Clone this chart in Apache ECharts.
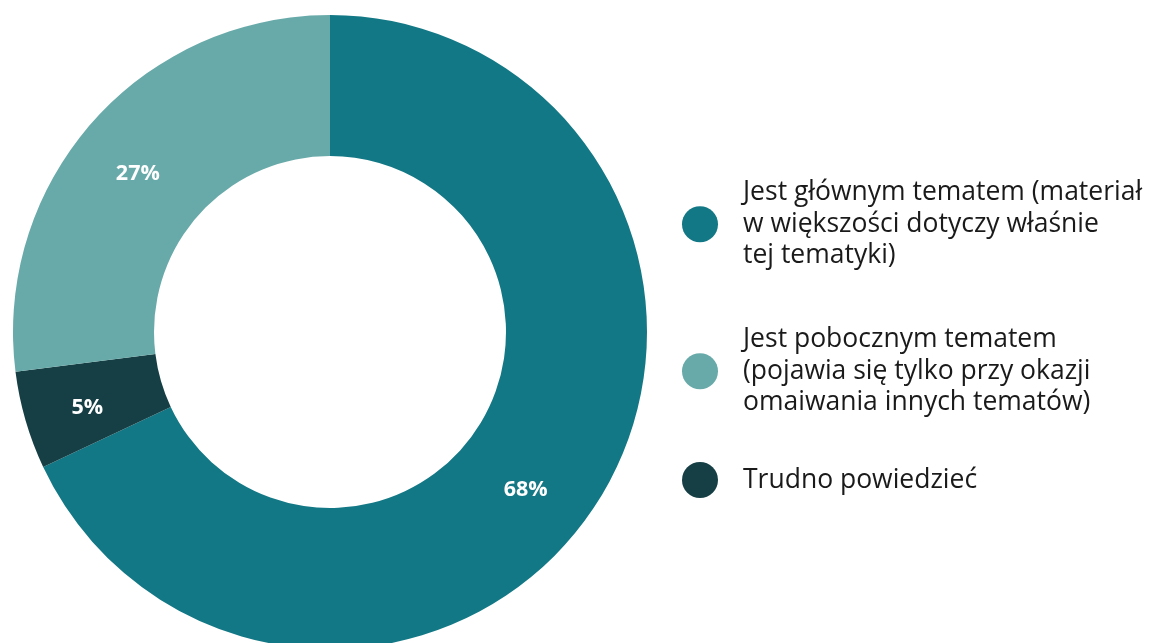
<!DOCTYPE html>
<html>
<head>
<meta charset="utf-8">
<script src="https://cdn.jsdelivr.net/npm/echarts@6/dist/echarts.min.js"></script>
<style>
html, body { margin: 0; padding: 0; background: #fff; }
#chart { width: 1150px; height: 643px; }
</style>
</head>
<body>
<div id="chart"></div>
<script>
var categories = [
    'Jest głównym tematem (materiał\nw większości dotyczy właśnie\ntej tematyki)',
    'Trudno powiedzieć',
    'Jest pobocznym tematem\n(pojawia się tylko przy okazji\nomaiwania innych tematów)'
];
var values = [68, 5, 27];
var colors = ['#137885', '#163f45', '#68aaa9'];

// the source puts its labels a bit off the slice middle
var labelShift = [[-15, 24], [-3, 6], [-5, 7]];

var pieData = [];
for (var i = 0; i < categories.length; i++) {
    pieData.push({
        name: categories[i],
        value: values[i],
        itemStyle: { color: colors[i] },
        label: { offset: labelShift[i] }
    });
}

var legendText = {
    color: '#1a1a1a',
    fontFamily: 'Open Sans',
    fontSize: 26.5,
    lineHeight: 31.5,
    padding: [0, 0, 0, 20]
};

function makeLegend(name, top) {
    return {
        data: [name],
        left: 677,
        top: top,
        orient: 'vertical',
        icon: 'circle',
        itemWidth: 36,
        itemHeight: 36,
        selectedMode: false,
        textStyle: legendText
    };
}

var myChart = echarts.init(document.getElementById('chart'));
myChart.setOption({
    animation: false,
    legend: [
        makeLegend(categories[0], 172),
        makeLegend(categories[2], 319),
        makeLegend(categories[1], 457)
    ],
    series: [{
        type: 'pie',
        center: [330, 332],
        radius: [176, 317],
        startAngle: 90,
        clockwise: true,
        avoidLabelOverlap: false,
        label: {
            show: true,
            position: 'inside',
            formatter: '{c}%',
            color: '#fff',
            fontFamily: 'Open Sans',
            fontWeight: 'bold',
            fontSize: 21.5
        },
        labelLine: { show: false },
        emphasis: { disabled: true },
        data: pieData
    }]
});
</script>
</body>
</html>
